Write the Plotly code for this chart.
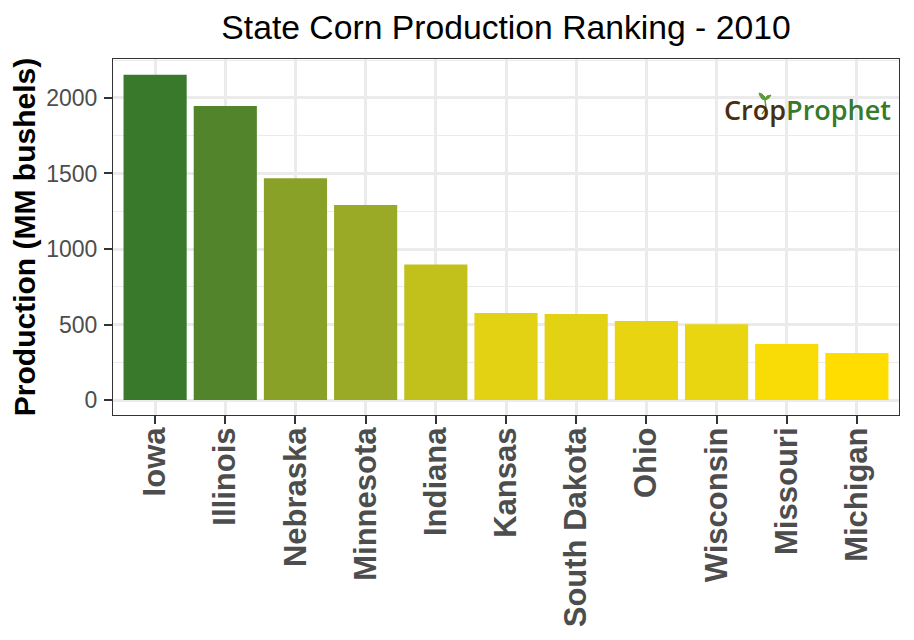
import plotly.graph_objects as go

states = ["Iowa", "Illinois", "Nebraska", "Minnesota", "Indiana", "Kansas",
          "South Dakota", "Ohio", "Wisconsin", "Missouri", "Michigan"]
production = [2153, 1947, 1469, 1292, 898, 576, 569, 523, 502, 371, 311]
bar_colors = ["#38792B", "#52852B", "#8AA128", "#9BAA26", "#C2C11C", "#E3D113",
              "#E3D213", "#E8D411", "#E9D510", "#F9DB05", "#FFDD00"]
y_ticks = [0, 500, 1000, 1500, 2000]
y_minor = [250, 750, 1250, 1750, 2250]

OFF = 8  # page margin around the figure
W, H = 914, 640
L, R, T, B = 113, 899, 59, 415


def px(x):
    return (x - L) / (R - L)


def py(y):
    return (B - y) / (B - T)


def path(points, close=True):
    d = "M " + " L ".join(f"{px(x):.5f},{py(y):.5f}" for x, y in points)
    return d + (" Z" if close else "")


leaf_color = "#5E9A3C"
logo_shapes = [
    dict(type="path", xref="paper", yref="paper", line=dict(color=leaf_color, width=1), fillcolor=leaf_color,
         path=path([(759, 93), (762, 94), (765, 97), (765, 100), (762, 99), (760, 96)])),
    dict(type="path", xref="paper", yref="paper", line=dict(color=leaf_color, width=1), fillcolor=leaf_color,
         path=path([(771, 95), (769, 98), (766, 100), (765, 99), (767, 96)])),
    dict(type="path", xref="paper", yref="paper", line=dict(color=leaf_color, width=1.5),
         path=path([(765, 100), (766, 108), (762, 114)], close=False)),
]

fig = go.Figure(go.Bar(x=states, y=production, marker=dict(color=bar_colors, line_width=0),
                       width=0.9))

fig.update_layout(
    width=W - OFF, height=H - OFF, autosize=False,
    margin=dict(l=L - OFF, r=W - R, t=T - OFF, b=H - B, pad=0, autoexpand=False),
    paper_bgcolor="white", plot_bgcolor="white",
    showlegend=False,
    font=dict(family="Liberation Sans, Arial, sans-serif"),
    title=dict(text="State Corn Production Ranking - 2010",
               x=(506 - OFF) / (W - OFF), xanchor="center", xref="container",
               y=1 - (27 - OFF) / (H - OFF), yanchor="middle",
               font=dict(size=33.7, color="black")),
    shapes=logo_shapes,
    annotations=[
        dict(text="<span style='color:#4A2C0F'>Crop</span><span style='color:#38792B'>Prophet</span>",
             xref="paper", yref="paper", x=px(807), y=py(110),
             xanchor="center", yanchor="middle", showarrow=False,
             font=dict(family="Open Sans, sans-serif", size=27, weight=600)),
    ],
)
fig.update_xaxes(
    range=[-0.6, 10.6], type="category", tickangle=-90, automargin=False,
    tickfont=dict(size=31, color="#4D4D4D", family="Liberation Sans, Arial, sans-serif", weight="bold"),
    ticks="outside", ticklen=8, tickwidth=2, tickcolor="#333333", ticklabelstandoff=-9,
    showgrid=True, gridcolor="#EBEBEB", gridwidth=2.5,
    showline=True, linecolor="#333333", linewidth=1.2, mirror=True, zeroline=False,
)
fig.update_yaxes(
    range=[-99, 2258], tickvals=y_ticks, automargin=False,
    tickfont=dict(size=23, color="#4D4D4D"),
    ticks="outside", ticklen=8, tickwidth=2, tickcolor="#333333", ticklabelstandoff=2,
    showgrid=True, gridcolor="#EBEBEB", gridwidth=2.5,
    minor=dict(tickvals=y_minor, showgrid=True, gridcolor="#EBEBEB", gridwidth=1.3, ticks=""),
    showline=True, linecolor="#333333", linewidth=1.2, mirror=True, zeroline=False,
    title=dict(text="<b>Production (MM bushels)</b>", font=dict(size=30, color="black"), standoff=8),
)
fig.write_html("out.html")
